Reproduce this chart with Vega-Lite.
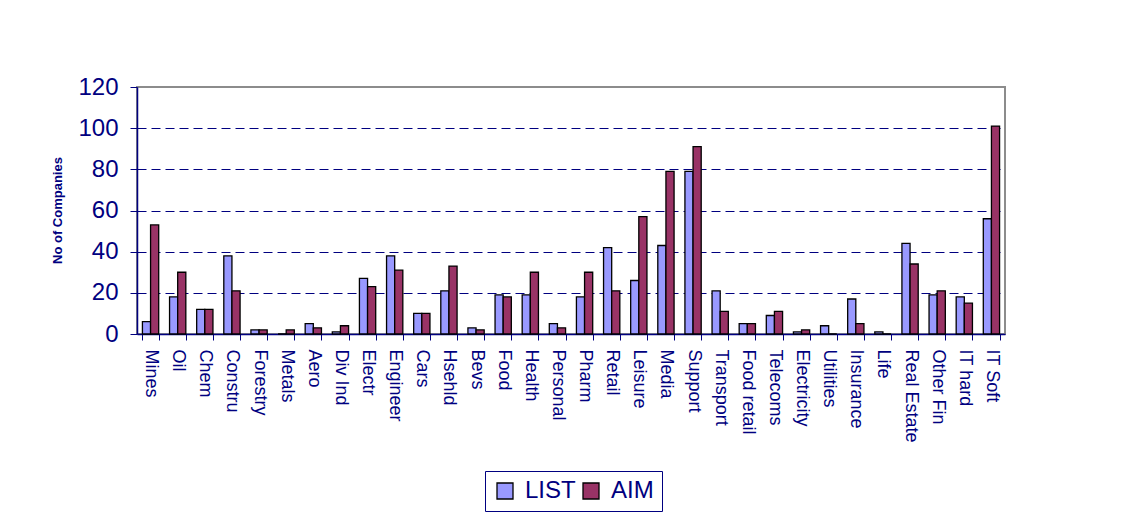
{
  "$schema": "https://vega.github.io/schema/vega-lite/v6.json",
  "width": 868,
  "height": 247,
  "autosize": {"type": "none"},
  "padding": {"left": 137, "top": 87, "right": 125, "bottom": 181},
  "background": "white",
  "config": {
    "font": "Liberation Sans",
    "view": {"stroke": "#8c8c8c", "strokeWidth": 2}
  },
  "data": {
    "values": [
      {"Sector": "Mines", "Series": "LIST", "Count": 6}, {"Sector": "Mines", "Series": "AIM", "Count": 53},
      {"Sector": "Oil", "Series": "LIST", "Count": 18}, {"Sector": "Oil", "Series": "AIM", "Count": 30},
      {"Sector": "Chem", "Series": "LIST", "Count": 12}, {"Sector": "Chem", "Series": "AIM", "Count": 12},
      {"Sector": "Constru", "Series": "LIST", "Count": 38}, {"Sector": "Constru", "Series": "AIM", "Count": 21},
      {"Sector": "Forestry", "Series": "LIST", "Count": 2}, {"Sector": "Forestry", "Series": "AIM", "Count": 2},
      {"Sector": "Metals", "Series": "LIST", "Count": 0}, {"Sector": "Metals", "Series": "AIM", "Count": 2},
      {"Sector": "Aero", "Series": "LIST", "Count": 5}, {"Sector": "Aero", "Series": "AIM", "Count": 3},
      {"Sector": "Div Ind", "Series": "LIST", "Count": 1}, {"Sector": "Div Ind", "Series": "AIM", "Count": 4},
      {"Sector": "Electr", "Series": "LIST", "Count": 27}, {"Sector": "Electr", "Series": "AIM", "Count": 23},
      {"Sector": "Engineer", "Series": "LIST", "Count": 38}, {"Sector": "Engineer", "Series": "AIM", "Count": 31},
      {"Sector": "Cars", "Series": "LIST", "Count": 10}, {"Sector": "Cars", "Series": "AIM", "Count": 10},
      {"Sector": "Hsehld", "Series": "LIST", "Count": 21}, {"Sector": "Hsehld", "Series": "AIM", "Count": 33},
      {"Sector": "Bevs", "Series": "LIST", "Count": 3}, {"Sector": "Bevs", "Series": "AIM", "Count": 2},
      {"Sector": "Food", "Series": "LIST", "Count": 19}, {"Sector": "Food", "Series": "AIM", "Count": 18},
      {"Sector": "Health", "Series": "LIST", "Count": 19}, {"Sector": "Health", "Series": "AIM", "Count": 30},
      {"Sector": "Personal", "Series": "LIST", "Count": 5}, {"Sector": "Personal", "Series": "AIM", "Count": 3},
      {"Sector": "Pharm", "Series": "LIST", "Count": 18}, {"Sector": "Pharm", "Series": "AIM", "Count": 30},
      {"Sector": "Retail", "Series": "LIST", "Count": 42}, {"Sector": "Retail", "Series": "AIM", "Count": 21},
      {"Sector": "Leisure", "Series": "LIST", "Count": 26}, {"Sector": "Leisure", "Series": "AIM", "Count": 57},
      {"Sector": "Media", "Series": "LIST", "Count": 43}, {"Sector": "Media", "Series": "AIM", "Count": 79},
      {"Sector": "Support", "Series": "LIST", "Count": 79}, {"Sector": "Support", "Series": "AIM", "Count": 91},
      {"Sector": "Transport", "Series": "LIST", "Count": 21}, {"Sector": "Transport", "Series": "AIM", "Count": 11},
      {"Sector": "Food retail", "Series": "LIST", "Count": 5}, {"Sector": "Food retail", "Series": "AIM", "Count": 5},
      {"Sector": "Telecoms", "Series": "LIST", "Count": 9}, {"Sector": "Telecoms", "Series": "AIM", "Count": 11},
      {"Sector": "Electricity", "Series": "LIST", "Count": 1}, {"Sector": "Electricity", "Series": "AIM", "Count": 2},
      {"Sector": "Utilities", "Series": "LIST", "Count": 4}, {"Sector": "Utilities", "Series": "AIM", "Count": 0},
      {"Sector": "Insurance", "Series": "LIST", "Count": 17}, {"Sector": "Insurance", "Series": "AIM", "Count": 5},
      {"Sector": "Life", "Series": "LIST", "Count": 1}, {"Sector": "Life", "Series": "AIM", "Count": 0},
      {"Sector": "Real Estate", "Series": "LIST", "Count": 44}, {"Sector": "Real Estate", "Series": "AIM", "Count": 34},
      {"Sector": "Other Fin", "Series": "LIST", "Count": 19}, {"Sector": "Other Fin", "Series": "AIM", "Count": 21},
      {"Sector": "IT hard", "Series": "LIST", "Count": 18}, {"Sector": "IT hard", "Series": "AIM", "Count": 15},
      {"Sector": "IT Soft", "Series": "LIST", "Count": 56}, {"Sector": "IT Soft", "Series": "AIM", "Count": 101}
    ]
  },
  "mark": {"type": "bar", "stroke": "black", "strokeWidth": 1.3},
  "encoding": {
    "x": {
      "field": "Sector",
      "type": "nominal",
      "sort": null,
      "scale": {"paddingInner": 0.4, "paddingOuter": 0.2},
      "axis": {
        "title": null,
        "labelAngle": 90,
        "labelAlign": "left",
        "labelBaseline": "middle",
        "labelFontSize": 18,
        "labelColor": "#000080",
        "labelPadding": 9,
        "domainColor": "#000080",
        "domainWidth": 1.5,
        "tickColor": "#000080",
        "tickSize": 6,
        "tickBand": "extent",
        "grid": false,
        "labelOverlap": false
      }
    },
    "xOffset": {"field": "Series", "type": "nominal", "sort": ["LIST", "AIM"], "scale": {"paddingInner": 0, "paddingOuter": 0}},
    "y": {
      "field": "Count",
      "type": "quantitative",
      "scale": {"domain": [0, 120], "nice": false},
      "axis": {
        "title": "No of Companies",
        "titleFontSize": 13,
        "titleFontWeight": "bold",
        "titleColor": "#000080",
        "titleAngle": -90,
        "titleBaseline": "middle",
        "titleAlign": "center",
        "titleX": -80,
        "titleY": 123,
        "values": [0, 20, 40, 60, 80, 100, 120],
        "labelFontSize": 24,
        "labelColor": "#000080",
        "labelPadding": 12,
        "domainColor": "#000080",
        "domainWidth": 1.5,
        "tickColor": "#000080",
        "tickSize": 7,
        "grid": true,
        "gridColor": "#000080",
        "gridDash": [9, 5],
        "gridWidth": 1,
        "gridOpacity": {"condition": {"test": "datum.value >= 120 || datum.value <= 0", "value": 0}, "value": 1}
      }
    },
    "color": {
      "field": "Series",
      "type": "nominal",
      "scale": {"domain": ["LIST", "AIM"], "range": ["#9999FF", "#993366"]},
      "legend": {
        "title": null,
        "orient": "none",
        "legendX": 348,
        "legendY": 384,
        "direction": "horizontal",
        "symbolType": "square",
        "symbolSize": 256,
        "symbolStrokeColor": "black",
        "symbolStrokeWidth": 1.3,
        "symbolOpacity": 1,
        "labelFontSize": 24,
        "labelColor": "#000080",
        "labelOffset": 8,
        "columnPadding": 3,
        "padding": 8,
        "strokeColor": "#000080",
        "fillColor": "white"
      }
    }
  }
}
